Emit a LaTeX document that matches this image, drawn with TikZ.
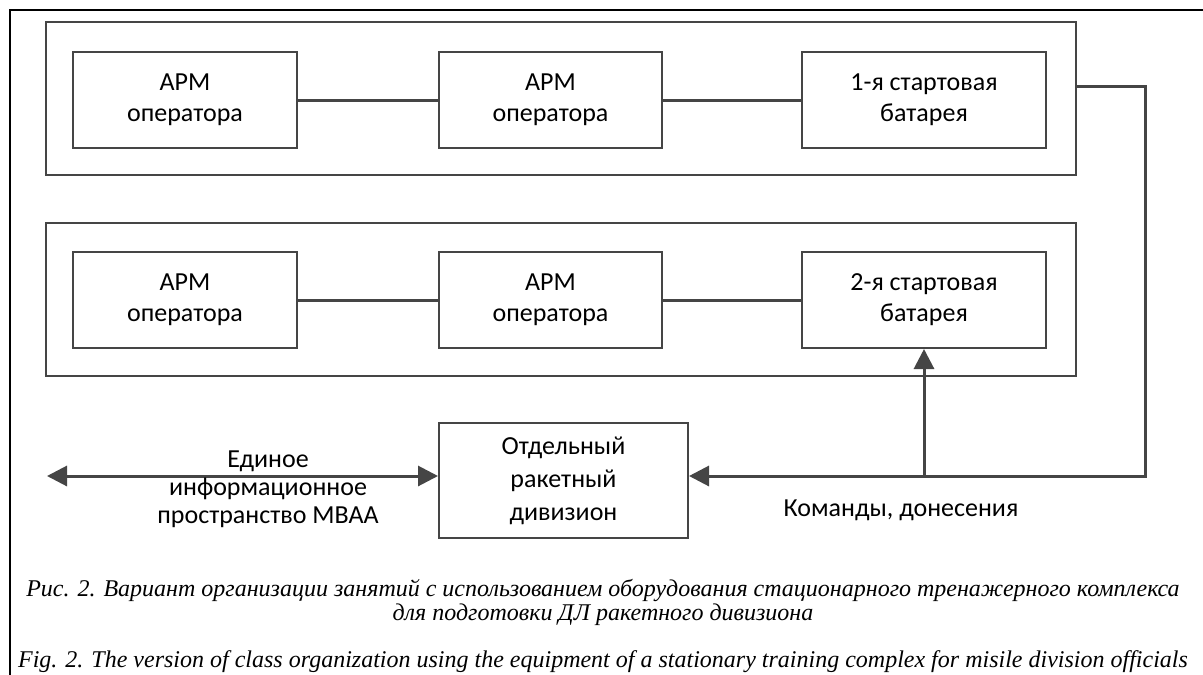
\documentclass[tikz,border=0pt]{standalone}
\usepackage{fontspec}
\setmainfont{Carlito}
\newfontfamily\capfont{Liberation Serif}
\usetikzlibrary{arrows.meta}
\definecolor{ln}{HTML}{454545}
\tikzset{
  boxstyle/.style={draw=ln, line width=2pt, inner sep=0pt, align=center,
    minimum height=96pt, font=\fontsize{26}{31}\selectfont},
  grpstyle/.style={draw=ln, line width=2pt, inner sep=0pt, minimum width=1030pt, minimum height=153pt},
  conn/.style={draw=ln, line width=3pt},
  tip/.style={-{Triangle[length=20pt,width=20pt]}},
  lbl/.style={align=center, inner sep=0pt, font=\fontsize{26}{28}\selectfont},
  captxt/.style={inner sep=0pt, font=\capfont\itshape\fontsize{24}{28}\selectfont}
}
\begin{document}
\begin{tikzpicture}[x=1pt,y=-1pt]
\useasboundingbox (0,0) rectangle (1203,675);
\fill[white] (0,0) rectangle (1203,675);
\draw[black, line width=1.5pt] (10,675) -- (10,10) -- (1203,10);
% group boxes
\node[grpstyle] (G1) at (561,98.5) {};
\node[grpstyle] (G2) at (561,299.5) {};
% row 1
\node[boxstyle, minimum width=224pt] (b1) at (185,100) {АРМ\\оператора};
\node[boxstyle, minimum width=223pt] (b2) at (550.5,100) {АРМ\\оператора};
\node[boxstyle, minimum width=244pt] (b3) at (924,100) {1-я стартовая\\батарея};
% row 2
\node[boxstyle, minimum width=224pt] (b4) at (185,300) {АРМ\\оператора};
\node[boxstyle, minimum width=223pt] (b5) at (550.5,300) {АРМ\\оператора};
\node[boxstyle, minimum width=244pt] (b6) at (924,300) {2-я стартовая\\батарея};
% division
\node[boxstyle, minimum width=249pt, minimum height=115pt, font=\fontsize{26}{33}\selectfont] (od) at (563.5,480.5) {Отдельный\\ракетный\\дивизион};
% connectors
\draw[conn] (b1.east) -- (b2.west);
\draw[conn] (b2.east) -- (b3.west);
\draw[conn] (b4.east) -- (b5.west);
\draw[conn] (b5.east) -- (b6.west);
\coordinate (k1) at (1145,86);
\coordinate (k2) at (1145,476);
\coordinate (k3) at (b6.center |- k2);
\coordinate (k4) at (47,476);
\draw[conn, tip] (G1.east |- k1) -- (k1) -- (k2) -- (od.east |- k2);
\draw[conn, tip] (k3) -- (b6.south);
\draw[conn, {Triangle[length=20pt,width=20pt]}-{Triangle[length=20pt,width=20pt]}] (k4) -- (od.west |- k4);
% labels
\node[lbl] (l1) at (268,489) {Единое\\информационное\\пространство МВАА};
\node[lbl] (l2) at (901,510) {Команды, донесения};
% caption
\node[captxt] (c1) at (603,590) {Рис. 2. Вариант организации занятий с использованием оборудования стационарного тренажерного комплекса};
\node[captxt] (c2) at (603,615) {для подготовки ДЛ ракетного дивизиона};
\node[captxt] (c3) at (603,662) {Fig. 2. The version of class organization using the equipment of a stationary training complex for misile division officials};
\end{tikzpicture}
\end{document}
